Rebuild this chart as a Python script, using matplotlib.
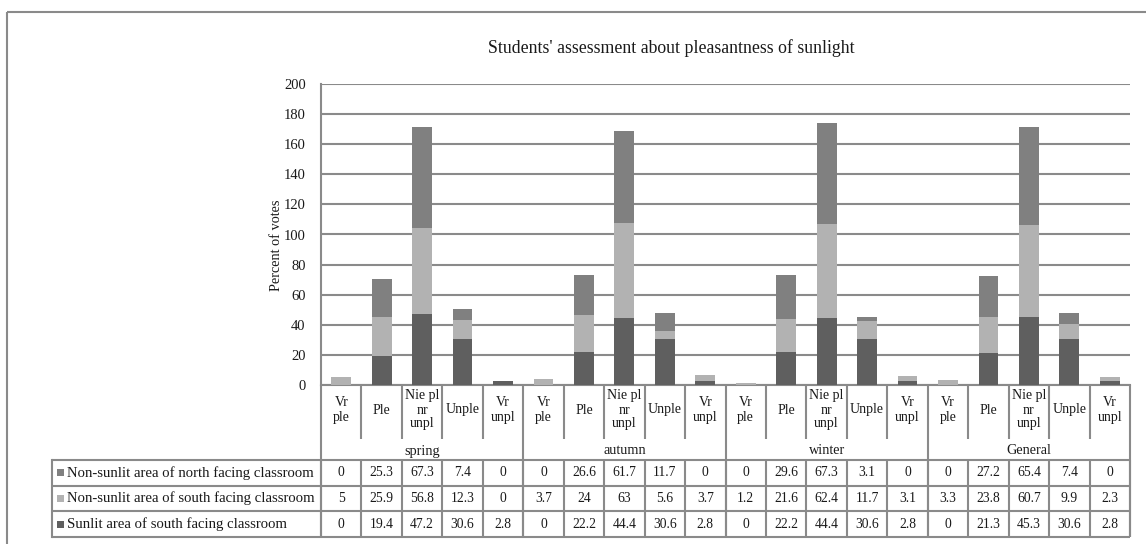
"""
Students' assessment about pleasantness of sunlight
Stacked bars with an Excel-style data table underneath.
"""
import numpy as np
import matplotlib
matplotlib.use("Agg")
import matplotlib.pyplot as plt
from matplotlib.patches import Rectangle

plt.rcParams["font.family"] = ["Liberation Serif", "DejaVu Serif"]

# ---- data ----
categories = ["Vr\nple", "Ple", "Nie pl\nnr\nunpl", "Unple", "Vr\nunpl"]
seasons = ["spring", "autumn", "winter", "General"]
series_names = ["Non-sunlit area of north facing classroom",
                "Non-sunlit area of south facing classroom",
                "Sunlit area of south facing classroom"]
north = [0, 25.3, 67.3, 7.4, 0,
         0, 26.6, 61.7, 11.7, 0,
         0, 29.6, 67.3, 3.1, 0,
         0, 27.2, 65.4, 7.4, 0]
south = [5, 25.9, 56.8, 12.3, 0,
         3.7, 24, 63, 5.6, 3.7,
         1.2, 21.6, 62.4, 11.7, 3.1,
         3.3, 23.8, 60.7, 9.9, 2.3]
sunlit = [0, 19.4, 47.2, 30.6, 2.8,
          0, 22.2, 44.4, 30.6, 2.8,
          0, 22.2, 44.4, 30.6, 2.8,
          0, 21.3, 45.3, 30.6, 2.8]
yticks = list(range(0, 201, 20))

C_NORTH = "#808080"
C_SOUTH = "#b2b2b2"
C_SUN = "#5f5f5f"
LINE = "#8a8a8a"
TXT = "#1a1a1a"

W, H = 1146, 544
fig = plt.figure(figsize=(W / 100, H / 100), dpi=100)

def px(x, y):
    return x / W, 1 - y / H

# ---- bar axes ----
ax_left, ax_right, ax_top, ax_bot = 321, 1130, 84, 385
ax = fig.add_axes([ax_left / W, (H - ax_bot) / H,
                   (ax_right - ax_left) / W, (ax_bot - ax_top) / H])
x = np.arange(len(north))
bw = 0.49
ax.bar(x, sunlit, bw, color=C_SUN, zorder=3)
ax.bar(x, south, bw, bottom=sunlit, color=C_SOUTH, zorder=3)
ax.bar(x, north, bw, bottom=np.add(sunlit, south), color=C_NORTH, zorder=3)
ax.set_xlim(-0.5, len(x) - 0.5)
ax.set_ylim(0, 200)
ax.set_yticks(yticks)
ax.set_xticks([])
ax.tick_params(axis="y", length=0, pad=11, labelsize=10.5, labelcolor=TXT)
ax.grid(axis="y", color=LINE, linewidth=1.5, zorder=0)
for s in ["top", "right"]:
    ax.spines[s].set_visible(False)
for s in ["left", "bottom"]:
    ax.spines[s].set_color(LINE)
    ax.spines[s].set_linewidth(1.5)

fig.text(*px(277, 245), "Percent of votes", rotation=90, ha="center",
         va="center", fontsize=10.3, color=TXT)
fig.text(*px(671, 48), "Students' assessment about pleasantness of sunlight",
         ha="center", va="center", fontsize=12.75, color=TXT)

# ---- overlay for table and frame (pixel coords) ----
ov = fig.add_axes([0, 0, 1, 1], zorder=-1)
ov.set_xlim(0, W)
ov.set_ylim(H, 0)
ov.axis("off")

ov.add_patch(Rectangle((7, 12), W + 20, H + 20, fill=False,
                       edgecolor=LINE, linewidth=1.5))

ncat = len(categories)
n = len(north)
cw = (ax_right - ax_left) / n
edges = [ax_left + i * cw for i in range(n + 1)]
cat_bot, tab_top = 439, 460
row_h = 25.7
tab_left = 52
tab_bot = tab_top + 3 * row_h
lw = 1.5

# category header cells
for i in range(n + 1):
    full = (i % ncat == 0)
    y1 = tab_bot if full else cat_bot
    ov.plot([edges[i], edges[i]], [ax_bot, y1], color=LINE, lw=lw,
            solid_capstyle="butt")
for i in range(n):
    cx = (edges[i] + edges[i + 1]) / 2
    ov.text(cx, 410, categories[i % ncat], ha="center", va="center",
            fontsize=10, color=TXT, linespacing=1.1)
for k, s in enumerate(seasons):
    cx = (edges[k * ncat] + edges[(k + 1) * ncat]) / 2
    ov.text(cx, 451, s, ha="center", va="center", fontsize=10.3, color=TXT)

# table body
rows = [north, south, sunlit]
colors = [C_NORTH, C_SOUTH, C_SUN]
for r in range(4):
    y = tab_top + r * row_h
    ov.plot([tab_left, ax_right], [y, y], color=LINE, lw=lw,
            solid_capstyle="butt")
ov.plot([tab_left, tab_left], [tab_top, tab_bot], color=LINE, lw=lw)
for i in range(n + 1):
    ov.plot([edges[i], edges[i]], [tab_top, tab_bot], color=LINE, lw=lw,
            solid_capstyle="butt")
for r, (vals, name, c) in enumerate(zip(rows, series_names, colors)):
    cy = tab_top + (r + 0.5) * row_h
    ov.add_patch(Rectangle((57, cy - 3.5), 7, 7, color=c, lw=0))
    ov.text(67, cy, name, ha="left", va="center", fontsize=10.6, color=TXT)
    for i, v in enumerate(vals):
        cx = (edges[i] + edges[i + 1]) / 2
        ov.text(cx, cy, f"{v:g}", ha="center", va="center",
                fontsize=9.8, color=TXT)

fig.savefig("out.png", dpi=100)
